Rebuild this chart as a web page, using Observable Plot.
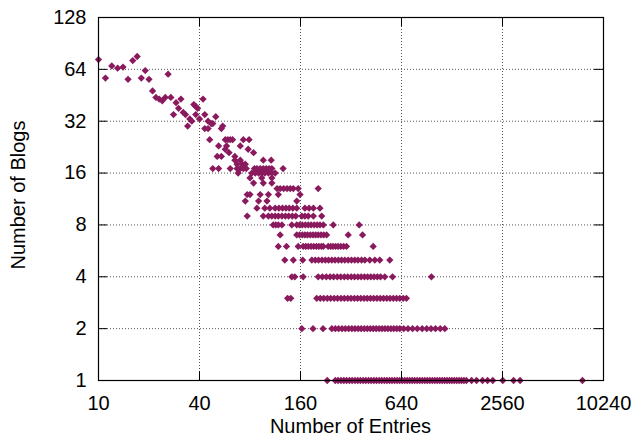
<!DOCTYPE html>
<html><head><meta charset="utf-8">
<script src="https://cdn.jsdelivr.net/npm/d3@7"></script>
<script src="https://cdn.jsdelivr.net/npm/@observablehq/plot@0.6"></script>
<style>html,body{margin:0;padding:0;background:#fff}</style>
</head><body><div id="chart"></div>
<script>
const xTicks = [10, 40, 160, 640, 2560, 10240];
const yTicks = [1, 2, 4, 8, 16, 32, 64, 128];
const xLabel = "Number of Entries";
const yLabel = "Number of Blogs";

// scattered points (entries, blogs)
const scatterX = [10,11,12,13,14,15,16,17,18,19,20,26,21,22,23,24,25,27,28,29,30,31,32,33,34,35,36,37,38,38,39,40,42,43,45,47,48,50,55];
const scatterY = [73,57,67,65,66,56,72,76,57,63,56,60,48,44,43,42,44,44,35,41,38,43,36,35,30,33,32,40,39,35,38,33,43,35,32,31,31,34,30];

// points lying on integer rows (blogs = row value, entries listed)
const row29 = [43, 45, 54];
const row25 = [46, 57, 59, 61, 63, 73, 79];
const row23 = [52, 58, 70];
const row22 = [57, 78];
const row21 = [60, 84];
const row20 = [51, 54, 65];
const row19 = [65, 70, 96, 107];
const row18 = [67, 72, 75];
const row17 = [48, 52, 61, 67, 70, 73, 76, 85, 88, 92, 96, 100, 104, 108, 126];
const row16 = [68, 82, 86, 90, 94, 98, 103, 108, 113];
const row15 = [80, 94, 108];
const row14 = [84, 96, 108];
const row13 = [116, 121, 127, 133, 139, 145, 155, 204];
const row12 = [77, 80, 92, 103, 118, 159];
const row11 = [75, 90, 101, 152];
const row10 = [88, 98, 105, 113, 119, 125, 131, 137, 144, 152, 170, 180, 191, 209];
const row9 = [77, 96, 103, 108, 113, 118, 124, 130, 136, 143, 150, 163, 170, 178, 191, 214];
const row8 = [110, 114, 118, 124, 142, 152, 158, 164, 171, 178, 185, 193, 201, 209, 219, 251, 358];
const row7 = [121, 152, 158, 164, 170, 176, 183, 190, 197, 204, 212, 220, 229, 308, 375];
const row6 = [118, 132, 155, 166, 172, 178, 185, 192, 199, 206, 213, 219, 234, 242, 250, 259, 268, 278, 289, 301, 434];
const row5 = [129, 145, 165, 187, 196, 205, 215, 225, 235, 246, 257, 269, 281, 294, 308, 322, 337, 352, 370, 387, 414, 444, 475, 545];
const row4 = [142, 148, 166, 204, 216, 228, 240, 252, 265, 278, 292, 306, 321, 336, 352, 368, 385, 402, 420, 439, 459, 480, 509, 566, 965];
const row3 = [134, 140, 200, 210, 220, 231, 242, 254, 266, 279, 292, 306, 320, 335, 350, 366, 383, 400, 418, 437, 457, 478, 500, 523, 547, 572, 598, 625, 655, 685];
const row2 = [163, 190, 218, 246, 258, 270, 283, 296, 310, 324, 338, 353, 368, 384, 400, 417, 434, 452, 471, 490, 510, 531, 553, 576, 600, 625, 660, 700, 745, 795, 850, 905, 960, 1020, 1090, 1160];
const row1 = [231, 258, 268, 279, 290, 301, 313, 325, 338, 351, 364, 378, 392, 407, 422, 438, 454, 471, 488, 506, 524, 543, 562, 582, 603, 624, 646, 669, 692, 716, 741, 767, 794, 822, 851, 881, 912, 944, 977, 1011, 1046, 1082, 1119, 1157, 1196, 1236, 1277, 1320, 1364, 1410, 1458, 1508, 1560, 1675, 1793, 1946, 2085, 2240, 2570, 2980, 3260, 7670];

const rows = [[29,row29],[25,row25],[23,row23],[22,row22],[21,row21],[20,row20],[19,row19],[18,row18],[17,row17],[16,row16],[15,row15],[14,row14],[13,row13],[12,row12],[11,row11],[10,row10],[9,row9],[8,row8],[7,row7],[6,row6],[5,row5],[4,row4],[3,row3],[2,row2],[1,row1]];

const data = scatterX.map((x, i) => ({x, y: scatterY[i]}));
for (const [y, xs] of rows) for (const x of xs) data.push({x, y});

const diamond = {
  draw(ctx, size) {
    const h = Math.sqrt(size / 2);
    ctx.moveTo(0, -h); ctx.lineTo(h, 0); ctx.lineTo(0, h); ctx.lineTo(-h, 0); ctx.closePath();
  }
};

const W = 635, H = 438, ML = 98, MR = 32, MT = 17, MB = 58;
const innerW = W - ML - MR, innerH = H - MT - MB;
const font = "'Liberation Sans', Arial, Helvetica, sans-serif";
const FS = 20;

const chart = Plot.plot({
  width: W, height: H,
  marginLeft: ML, marginRight: MR, marginTop: MT, marginBottom: MB,
  style: {fontFamily: font, fontSize: FS + "px", color: "#000", background: "#fff", overflow: "visible"},
  x: {type: "log", domain: [10, 10240], axis: null},
  y: {type: "log", domain: [1, 128], axis: null},
  marks: [
    Plot.gridX(xTicks, {stroke: "#555", strokeOpacity: 1, strokeDasharray: "1,2", strokeWidth: 1}),
    Plot.gridY(yTicks, {stroke: "#555", strokeOpacity: 1, strokeDasharray: "1,2", strokeWidth: 1}),
    Plot.dot(data, {x: "x", y: "y", symbol: diamond, r: 2.9, fill: "#8a1a5e", stroke: "none"}),
    Plot.frame({stroke: "#000", strokeWidth: 1.2}),
    Plot.tickX(xTicks, {x: d => d, insetTop: innerH - 9, stroke: "#000"}),
    Plot.tickX(xTicks, {x: d => d, insetBottom: innerH - 9, stroke: "#000"}),
    Plot.tickY(yTicks, {y: d => d, insetRight: innerW - 9, stroke: "#000"}),
    Plot.tickY(yTicks, {y: d => d, insetLeft: innerW - 9, stroke: "#000"}),
    Plot.text(xTicks, {x: d => d, text: d => String(d), frameAnchor: "bottom", dy: 23, lineAnchor: "middle", fontSize: FS, fill: "#000"}),
    Plot.text(yTicks, {y: d => d, text: d => String(d), frameAnchor: "left", textAnchor: "end", dx: -12, lineAnchor: "middle", fontSize: FS, fill: "#000"})
  ]
});

const svg = d3.select(chart);
svg.append("text")
  .attr("x", ML + innerW / 2).attr("y", 433)
  .attr("text-anchor", "middle")
  .attr("font-family", font).attr("font-size", FS).attr("fill", "#000")
  .text(xLabel);
svg.append("text")
  .attr("transform", `translate(25,${195}) rotate(-90)`)
  .attr("text-anchor", "middle")
  .attr("font-family", font).attr("font-size", FS).attr("fill", "#000")
  .text(yLabel);

document.getElementById("chart").appendChild(chart);
</script>
</body></html>
